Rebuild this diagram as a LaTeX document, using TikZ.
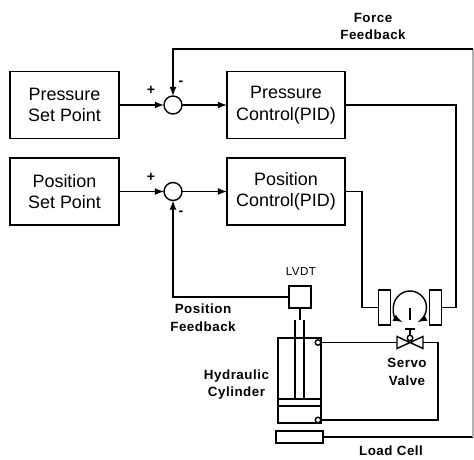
\documentclass[tikz,border=0pt]{standalone}
\usepackage{fontspec}
\setmainfont{Liberation Sans}
\newfontfamily\tagfont[LetterSpace=4]{Liberation Sans}
\tikzset{
	block/.style = {draw, thick, outer sep = 0, minimum width = 2.18cm, minimum height = 1.34cm, align = center, font = \fontsize{10.2}{12.2}\selectfont},
	ctrlblock/.style = {block, minimum width = 2.36cm},
	sumnode/.style = {draw, thick, circle, outer sep = 0, inner sep = 0, minimum size = 0.36cm},
	plate/.style = {draw, thick, outer sep = 0, minimum width = 0.18cm, minimum height = 0.7cm},
	port/.style = {draw, thick, circle, outer sep = 0, inner sep = 0, minimum size = 0.11cm},
	tag/.style = {align = center, inner sep = 0, font = \tagfont\bfseries\fontsize{7.6}{10}\selectfont},
	sign/.style = {inner sep = 0, font = \bfseries\fontsize{8}{8}\selectfont}
}

\begin{document}
\begin{tikzpicture}
		\useasboundingbox (0, 0) rectangle (9.48, 9.18);

		\node (pset) [block] at (1.29, 7.08) {Pressure\\Set Point};
		\node (pctrl) [ctrlblock] at (5.72, 7.08) {Pressure\\Control(PID)};
		\node (xset) [block] at (1.29, 5.35) {Position\\Set Point};
		\node (xctrl) [ctrlblock] at (5.72, 5.35) {Position\\Control(PID)};
		\node (sum1) [sumnode] at (3.46, 7.08) {};
		\node (sum2) [sumnode] at (3.46, 5.35) {};

		\draw [thick, -latex] (pset) -- (sum1);
		\draw [thick, -latex] (sum1) -- (pctrl);
		\draw [thick, -latex] (xset) -- (sum2);
		\draw [thick, -latex] (sum2) -- (xctrl);

		\node (plus1) [sign] at (3.02, 7.38) {+};
		\node (minus1) [sign] at (3.62, 7.52) {-};
		\node (plus2) [sign] at (3.02, 5.64) {+};
		\node (minus2) [sign] at (3.62, 4.92) {-};

		% servo motor
		\node (platel) [plate] at (7.69, 3.03) {};
		\node (plater) [plate] at (8.71, 3.03) {};
		\node (motor) [circle, inner sep = 0, outer sep = 0, minimum size = 0.66cm] at (8.2, 3.03) {};
		\draw [thick, latex-latex] (motor.-118) arc [start angle = -118, end angle = -422, radius = 0.33];
		\coordinate (shaft) at (8.2, 2.78);
		\draw [thick] (motor.center) -- (shaft);

		% valve
		\node (valve) [inner sep = 0, outer sep = 0, minimum width = 0.52cm, minimum height = 0.24cm] at (8.2, 2.33) {};
		\draw [thick] (valve.north west) -- (valve.south east) -- (valve.north east) -- (valve.south west) -- cycle;
		\node (pilot) [port] at (8.2, 2.42) {};
		\coordinate (stem) at (8.2, 2.6);
		\draw [thick] (stem) -- (pilot);
		\draw [thick] (stem) ++(-0.1, 0) -- ++(0.2, 0);

		% cylinder
		\node (cyl) [draw, thick, outer sep = 0, minimum width = 0.86cm, minimum height = 1.7cm] at (5.99, 1.57) {};
		\draw [thick] (5.56, 1.2) -- (6.42, 1.2);
		\draw [thick] (5.56, 1.06) -- (6.42, 1.06);
		\draw [thick] (5.9, 2.78) -- (5.9, 1.2);
		\draw [thick] (6.08, 2.78) -- (6.08, 1.2);
		\node (porta) [port] at (6.36, 2.33) {};
		\node (portb) [port] at (6.36, 0.78) {};
		\node (lvdt) [draw, thick, outer sep = 0, minimum size = 0.44cm] at (6, 3.24) {};
		\coordinate (rod) at (6, 2.78);
		\draw [thick] (lvdt) -- (rod);
		\node (cell) [draw, thick, outer sep = 0, minimum width = 0.94cm, minimum height = 0.24cm] at (5.99, 0.44) {};

		% feedback and drive lines
		\coordinate (ftop) at (9.46, 8.2);
		\coordinate (fbot) at (9.46, 0.44);
		\coordinate (pturn) at (9.12, 3.03);
		\coordinate (xturn) at (7.24, 3.03);
		\coordinate (vturn) at (8.76, 0.78);
		\draw [thick] (cell) -- (fbot);
		\draw [thick, black!30] (fbot) -- (ftop);
		\draw [thick, -latex] (ftop) -| (sum1);
		\draw [thick] (pctrl) -| (pturn) -- (plater);
		\draw [thick] (xctrl) -| (xturn) -- (platel);
		\draw [thick, -latex] (lvdt) -| (sum2);
		\draw [thick] (porta) -- (valve.west);
		\draw [thick] (valve.east) -| (vturn) -- (portb);

		\node (forcetag) [tag] at (7.46, 8.65) {Force\\Feedback};
		\node (lvdttag) [tag, font = \tagfont\fontsize{6.6}{8}\selectfont] at (6.02, 3.74) {LVDT};
		\node (postag) [tag] at (4.06, 2.83) {Position\\Feedback};
		\node (cyltag) [tag] at (4.73, 1.49) {Hydraulic\\Cylinder};
		\node (valvetag) [tag] at (8.14, 1.74) {Servo\\Valve};
		\node (celltag) [tag] at (7.82, 0.16) {Load Cell};
	\end{tikzpicture}
\end{document}
